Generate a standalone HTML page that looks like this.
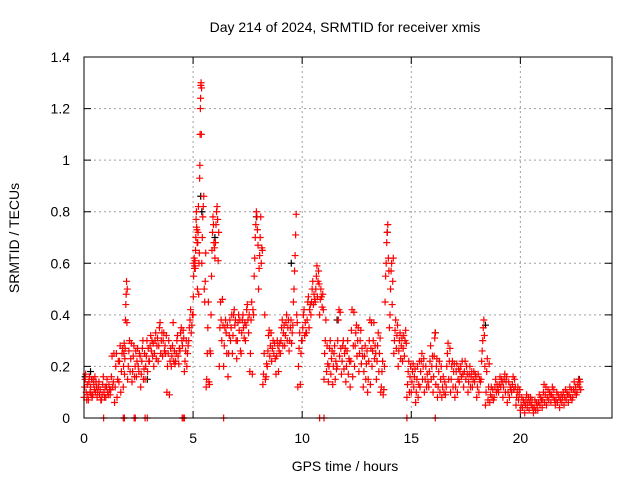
<!DOCTYPE html>
<html><head><meta charset="utf-8"><style>
html,body{margin:0;padding:0;background:#fff;}
svg{display:block;font-family:"Liberation Sans",sans-serif;}
</style></head><body>
<svg id="chart" width="640" height="480" viewBox="0 0 640 480">
<text x="345" y="32" font-size="14" text-anchor="middle">Day 214 of 2024, SRMTID for receiver xmis</text>
<text x="345" y="471" font-size="14" text-anchor="middle">GPS time / hours</text>
<text transform="translate(19,238) rotate(-90)" font-size="14" text-anchor="middle">SRMTID / TECUs</text>
<g id="grid"></g><g id="ticks"></g><g id="marks"></g>
<rect x="84" y="57" width="528" height="361" fill="none" stroke="#000" stroke-width="1"/>
</svg>
<script>
const xTicks=[0,5,10,15,20];
const yTicks=[0,0.2,0.4,0.6,0.8,1,1.2,1.4];
const yTickLabels=["0","0.2","0.4","0.6","0.8","1","1.2","1.4"];
const binTimes=[0,0.2,0.4,0.6,0.8,1.0,1.2,1.4,1.6,1.8,1.9,2.0,2.2,2.4,2.6,2.8,3.0,3.2,3.4,3.6,3.8,4.0,4.2,4.4,4.6,4.8,5.0,5.1,5.2,5.3,5.4,5.6,5.8,6.0,6.2,6.4,6.6,6.8,7.0,7.2,7.4,7.6,7.8,8.0,8.2,8.4,8.6,8.8,9.0,9.2,9.4,9.6,9.8,10.0,10.2,10.4,10.6,10.8,11.0,11.2,11.4,11.6,11.8,12.0,12.2,12.4,12.6,12.8,13.0,13.2,13.4,13.6,13.8,14.0,14.2,14.4,14.6,14.8,15.0,15.2,15.4,15.6,15.8,16.0,16.2,16.4,16.6,16.8,17.0,17.2,17.4,17.6,17.8,18.0,18.2,18.4,18.6,18.8,19.0,19.2,19.4,19.6,19.8,20.0,20.2,20.4,20.6,20.8,21.0,21.2,21.4,21.6,21.8,22.0,22.2,22.4,22.6];
const redValues=[
[.08,.12,.15,.17,.10,.07,.13,.09],[.07,.14,.16,.10,.12,.09,.15,.08],[.09,.15,.13,.11,.16,.10,.14,.12],[.08,.10,.12,.14,.09,.11,.07],[.07,.09,.13,.16,.10,.08,.12],[.08,.12,.15,.10,.09,.13,.11],[.09,.11,.16,.24,.12,.14,.25],[.06,.12,.20,.25,.08,.15,.22],[.14,.22,.28,.10,.18,.25,.27],[.12,.20,.25,.29,.17,.23,.27],[.38,.44,.48,.53,.37,.50],[.15,.20,.26,.30,.18,.23,.29],[.14,.18,.24,.28,.16,.20,.26],[.16,.22,.27,.20,.18,.25,.24],[.12,.17,.22,.27,.30,.15,.19,.25],[.15,.20,.24,.30,.18,.27,.22],[.22,.28,.32,.26,.30,.24,.29],[.20,.25,.30,.33,.23,.28,.31],[.22,.28,.35,.37,.25,.30,.33],[.24,.30,.33,.26,.28,.25,.32],[.10,.20,.25,.30,.09,.22,.27],[.20,.24,.28,.37,.22,.26,.21],[.22,.25,.30,.32,.24,.21,.27],[.26,.33,.35,.30,.28,.34,.31],[.18,.22,.26,.30,.20,.25,.28],[.30,.35,.38,.42,.33,.36,.40],[.40,.47,.55,.60,.62,.58,.59,.61],[.58,.65,.70,.77,.80,.74,.73,.68],[.50,.68,.72,.82,.48,.60,.64],[.93,.98,1.10,1.20,1.24,1.29,1.30,1.10,1.28],[.60,.70,.78,.82,.86,.50,.45,.53,.64],[.12,.15,.25,.35,.45,.14,.13,.26],[.25,.40,.55,.65,.72,.78,.75,.68,.66],[.62,.68,.75,.80,.82,.77,.61,.72],[.20,.35,.45,.38,.30,.46,.36],[.20,.28,.35,.38,.33,.25,.36],[.16,.25,.32,.38,.30,.35,.40],[.25,.32,.40,.42,.36,.38,.30],[.23,.30,.37,.40,.34,.38,.26],[.25,.33,.38,.40,.35,.31,.37],[.30,.36,.42,.44,.38,.33,.40],[.18,.25,.38,.45,.17,.42,.40],[.55,.62,.70,.75,.80,.78,.73,.67],[.50,.58,.63,.70,.78,.60,.66,.65],[.13,.17,.25,.40,.15,.16,.21],[.20,.26,.32,.34,.24,.28,.33],[.22,.27,.30,.25,.29,.23],[.17,.24,.30,.28,.18,.26,.29],[.25,.30,.35,.38,.28,.33,.36],[.28,.32,.37,.40,.30,.35,.38],[.26,.30,.35,.38,.29,.33,.36],[.45,.50,.57,.63,.71,.79,.40,.37],[.12,.20,.27,.33,.13,.25,.30],[.30,.35,.40,.42,.32,.37,.33],[.33,.38,.45,.47,.35,.42,.44],[.40,.45,.50,.53,.44,.48,.46],[.45,.50,.55,.59,.47,.53,.57,.52],[.40,.46,.50,.47,.43,.48,.42],[.15,.25,.30,.38,.18,.28,.21],[.14,.20,.27,.30,.17,.23,.26],[.13,.20,.25,.28,.15,.22,.19],[.20,.30,.38,.42,.24,.41,.27],[.17,.22,.28,.30,.19,.25,.27],[.14,.20,.26,.30,.17,.23,.22],[.12,.22,.34,.42,.16,.28,.41],[.20,.28,.33,.36,.24,.30,.35],[.18,.25,.30,.34,.21,.27,.24],[.12,.18,.24,.28,.15,.21,.26],[.10,.15,.22,.30,.38,.13,.27,.37],[.20,.26,.30,.37,.23,.28,.25],[.15,.22,.28,.33,.18,.25,.31],[.10,.12,.18,.22,.09,.11,.20],[.45,.55,.60,.68,.72,.75,.62,.57],[.35,.40,.50,.57,.60,.44,.53,.62],[.25,.30,.34,.38,.27,.32,.36],[.20,.26,.30,.33,.23,.28,.31],[.22,.27,.32,.24,.30,.34,.29],[.08,.13,.18,.22,.10,.16,.20],[.10,.14,.18,.21,.12,.16,.19],[.06,.10,.15,.20,.08,.13,.22],[.12,.18,.22,.25,.15,.20,.23],[.10,.15,.20,.12,.17,.14],[.12,.18,.22,.28,.15,.20,.24],[.10,.16,.24,.31,.33,.13,.20,.23],[.08,.12,.18,.22,.10,.15,.20],[.08,.12,.16,.10,.14,.09],[.12,.20,.25,.29,.15,.22,.27],[.10,.15,.20,.22,.12,.18,.21],[.08,.12,.18,.21,.10,.15,.19],[.14,.18,.20,.16,.22,.17],[.12,.18,.22,.15,.20,.17],[.10,.14,.17,.20,.12,.16,.18],[.12,.15,.18,.14,.17,.16],[.08,.12,.17,.10,.15,.14],[.15,.22,.26,.30,.35,.38,.32,.20],[.05,.10,.18,.23,.07,.12,.21],[.06,.09,.12,.08,.11,.07],[.08,.12,.15,.10,.13,.11],[.10,.13,.16,.12,.15,.14],[.08,.12,.15,.17,.10,.14,.16],[.06,.10,.14,.08,.12,.11],[.10,.13,.16,.11,.15,.12],[.05,.08,.10,.12,.07,.09,.11],[.03,.05,.08,.04,.07,.06],[.02,.05,.07,.09,.04,.06,.08],[.03,.06,.08,.05,.07,.04],[.02,.04,.07,.03,.06,.05],[.03,.06,.09,.05,.08,.07],[.04,.07,.10,.13,.06,.09,.12],[.05,.08,.11,.07,.10,.09],[.06,.09,.12,.08,.11,.07],[.05,.07,.10,.06,.09,.08],[.04,.07,.09,.06,.08,.10],[.05,.08,.11,.07,.10,.09],[.06,.09,.12,.08,.11,.07],[.08,.11,.14,.10,.12,.09],[.10,.13,.15,.12,.14,.11]];
const blackTimes=[0.05,0.3,2.9,5.35,5.4,6.0,7.9,9.5,11.6,13.9,16.1,18.4,22.7];
const blackValues=[0.16,0.18,0.15,0.86,0.80,0.70,0.78,0.60,0.38,0.72,0.33,0.36,0.15];
const zeroTimes=[0.9,1.8,1.85,2.3,2.35,2.8,2.9,4.5,4.55,4.6,6.4,10.8,11.0,14.8,16.1];
const X0=84,X1=612,Y0=418,Y1=57,XMAX=24.2,YMAX=1.4;
const xs=t=>X0+(X1-X0)*t/XMAX, ys=v=>Y0-(Y0-Y1)*v/YMAX;
const NS="http://www.w3.org/2000/svg";
function mk(tag,attrs,parent){const e=document.createElementNS(NS,tag);for(const k in attrs)e.setAttribute(k,attrs[k]);document.getElementById(parent).appendChild(e);return e;}
yTicks.forEach((v,i)=>{const y=ys(v);
 if(i>0&&i<yTicks.length-1){const g=mk('line',{x1:X0,x2:X1,y1:y,y2:y,stroke:'#a0a0a0','stroke-dasharray':'2,3'},'grid');
 
 }
 const t1=mk('path',{d:`M${X0},${y}h7M${X1},${y}h-7`,stroke:'#000'},'ticks');
 
 
 const l=mk('text',{x:70,y:y+5,'font-size':14,'text-anchor':'end'},'ticks');l.textContent=yTickLabels[i];
 
 });
xTicks.forEach((t,i)=>{const x=xs(t);
 if(i>0){const g=mk('line',{x1:x,x2:x,y1:Y0,y2:Y1,stroke:'#a0a0a0','stroke-dasharray':'2,3'},'grid');
 
 }
 const t1=mk('path',{d:`M${x},${Y0}v-7M${x},${Y1}v7`,stroke:'#000'},'ticks');
 
 
 const l=mk('text',{x:x,y:443,'font-size':14,'text-anchor':'middle'},'ticks');l.textContent=String(t);
 
 });
function plus(t,v,col,name){const x=xs(t),y=ys(v);
 const p=mk('path',{d:`M${x-3.5},${y}h7M${x},${y-3.5}v7`,stroke:col,'stroke-width':1.2},'marks');
 
 }
blackTimes.forEach((t,i)=>plus(t,blackValues[i],'#000','black-point'));
binTimes.forEach((t,i)=>{const vals=redValues[i];const nxt=i<binTimes.length-1?binTimes[i+1]:t+0.2;const w=nxt-t;
 vals.forEach((v,k)=>plus(t+w*k/vals.length,v,'#ff0000','red-point'));});
zeroTimes.forEach(t=>plus(t,0,'#ff0000','zero-point'));
</script>
</body></html>
